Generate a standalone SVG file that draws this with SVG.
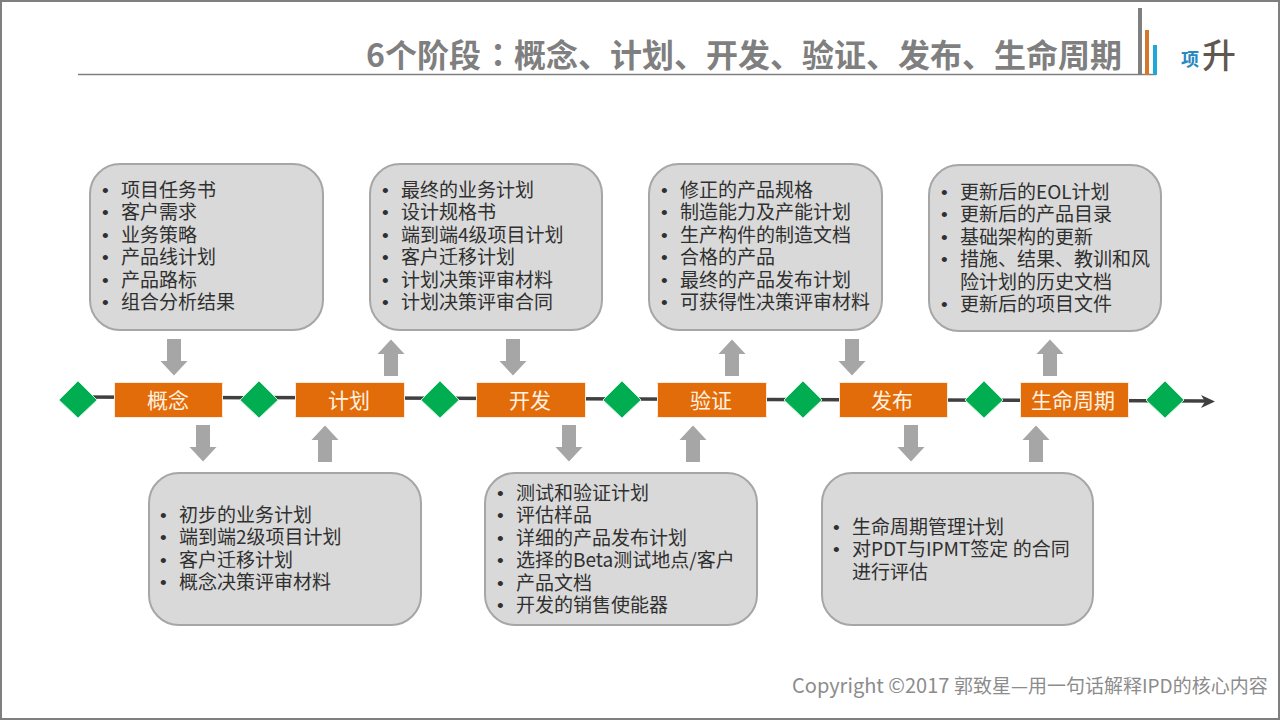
<svg xmlns="http://www.w3.org/2000/svg" width="1280" height="720" viewBox="0 0 1280 720">
<style>
text{font-family:"Noto Sans CJK SC","Liberation Sans",sans-serif}
.box{fill:#d9d9d9;stroke:#a6a6a6;stroke-width:2}
.t{font-size:19px;fill:#303030}
.b{font-family:"Liberation Sans",sans-serif}
.s{fill:#e36c0a;stroke:#fde9d9;stroke-width:1}
.st{font-size:21px;fill:#fff2e0;text-anchor:middle}
.d{fill:#00ad50;stroke:#c8f0d8;stroke-width:1}
.a{fill:#a6a6a6}
</style>
<defs>
<path id="dn" d="M-7-22H7V0H13.500L0 14.500L-13.500 0H-7Z"/>
<path id="up" d="M-7 22H7V0H13.500L0-14.500L-13.500 0H-7Z"/>
</defs>
<rect x="1" y="1" width="1278" height="718" fill="#fff" stroke="#7f7f7f" stroke-width="2"/>
<g id="title">
<text y="67" font-size="32" font-weight="700" fill="#7f7f7f"><tspan x="366">6个阶段</tspan><tspan x="482" style="font-family:'Noto Sans CJK TC',sans-serif">：</tspan><tspan x="514">概念、计划、开发、验证、发布、生命周期</tspan></text>
<path d="M78 74.500H1156" stroke="#7f7f7f" stroke-width="1.500" fill="none"/>
<rect x="1138" y="8" width="4" height="67" fill="#7f7f7f"/>
<rect x="1145" y="30" width="4" height="45" fill="#d2772c"/>
<rect x="1153" y="45" width="4" height="30" fill="#1ea7d8"/>
<text x="1181" y="66" font-size="18" font-weight="700" fill="#2a88c0">项</text>
<text x="1202" y="68" font-size="34" font-weight="500" fill="#5f5750">升</text>
</g>
<g id="connectors">
<path d="M78 397L1208 401" stroke="#404040" stroke-width="3.500" fill="none"/>
<path d="M1201 395L1215 401.500L1201 408L1205 401.500Z" fill="#404040"/>
</g>
<g id="arrows" class="a">
<use href="#dn" x="174" y="361"/><use href="#dn" x="203" y="447"/>
<use href="#up" x="391" y="354"/><use href="#up" x="325" y="440"/>
<use href="#dn" x="513" y="361"/><use href="#dn" x="569" y="447"/>
<use href="#up" x="732" y="354"/><use href="#up" x="693" y="440"/>
<use href="#dn" x="852" y="361"/><use href="#dn" x="911" y="447"/>
<use href="#up" x="1050" y="354"/><use href="#up" x="1036" y="440"/>
</g>
<g id="gates">
<path class="d" d="M78 381L97 400L78 418L59 400Z"/>
<path class="d" d="M259 381L278 400L259 418L240 400Z"/>
<path class="d" d="M440 381L459 400L440 418L421 400Z"/>
<path class="d" d="M622 381L641 400L622 418L603 400Z"/>
<path class="d" d="M803 381L822 400L803 418L784 400Z"/>
<path class="d" d="M984 381L1003 400L984 418L965 400Z"/>
<path class="d" d="M1165 381L1184 400L1165 418L1146 400Z"/>
</g>
<g id="stage-concept"><rect class="s" x="114.500" y="382.500" width="108" height="35"/><text class="st" x="168" y="408">概念</text></g>
<g id="stage-plan"><rect class="s" x="295.500" y="382.500" width="109" height="35"/><text class="st" x="349" y="408">计划</text></g>
<g id="stage-dev"><rect class="s" x="476.500" y="382.500" width="109" height="35"/><text class="st" x="530" y="408">开发</text></g>
<g id="stage-verify"><rect class="s" x="657.500" y="382.500" width="109" height="35"/><text class="st" x="711" y="408">验证</text></g>
<g id="stage-release"><rect class="s" x="839.500" y="382.500" width="108" height="35"/><text class="st" x="892" y="408">发布</text></g>
<g id="stage-life"><rect class="s" x="1020.500" y="382.500" width="108" height="35"/><text class="st" x="1073" y="408">生命周期</text></g>
<g id="box-1"><rect class="box" x="90" y="164" width="233" height="166" rx="30"/>
<text class="t" y="197"><tspan class="b" x="102">•</tspan><tspan x="121">项目任务书</tspan><tspan class="b" x="102" dy="22.400">•</tspan><tspan x="121">客户需求</tspan><tspan class="b" x="102" dy="22.400">•</tspan><tspan x="121">业务策略</tspan><tspan class="b" x="102" dy="22.400">•</tspan><tspan x="121">产品线计划</tspan><tspan class="b" x="102" dy="22.400">•</tspan><tspan x="121">产品路标</tspan><tspan class="b" x="102" dy="22.400">•</tspan><tspan x="121">组合分析结果</tspan></text></g>
<g id="box-2"><rect class="box" x="370" y="164" width="232" height="166" rx="30"/>
<text class="t" y="197"><tspan class="b" x="382">•</tspan><tspan x="401">最终的业务计划</tspan><tspan class="b" x="382" dy="22.400">•</tspan><tspan x="401">设计规格书</tspan><tspan class="b" x="382" dy="22.400">•</tspan><tspan x="401">端到端4级项目计划</tspan><tspan class="b" x="382" dy="22.400">•</tspan><tspan x="401">客户迁移计划</tspan><tspan class="b" x="382" dy="22.400">•</tspan><tspan x="401">计划决策评审材料</tspan><tspan class="b" x="382" dy="22.400">•</tspan><tspan x="401">计划决策评审合同</tspan></text></g>
<g id="box-3"><rect class="box" x="649" y="164" width="233" height="166" rx="30"/>
<text class="t" y="197"><tspan class="b" x="661">•</tspan><tspan x="680">修正的产品规格</tspan><tspan class="b" x="661" dy="22.400">•</tspan><tspan x="680">制造能力及产能计划</tspan><tspan class="b" x="661" dy="22.400">•</tspan><tspan x="680">生产构件的制造文档</tspan><tspan class="b" x="661" dy="22.400">•</tspan><tspan x="680">合格的产品</tspan><tspan class="b" x="661" dy="22.400">•</tspan><tspan x="680">最终的产品发布计划</tspan><tspan class="b" x="661" dy="22.400">•</tspan><tspan x="680">可获得性决策评审材料</tspan></text></g>
<g id="box-4"><rect class="box" x="929" y="165" width="232" height="166" rx="30"/>
<text class="t" y="199"><tspan class="b" x="941">•</tspan><tspan x="960">更新后的EOL计划</tspan><tspan class="b" x="941" dy="22.400">•</tspan><tspan x="960">更新后的产品目录</tspan><tspan class="b" x="941" dy="22.400">•</tspan><tspan x="960">基础架构的更新</tspan><tspan class="b" x="941" dy="22.400">•</tspan><tspan x="960">措施、结果、教训和风</tspan><tspan x="960" dy="22.400">险计划的历史文档</tspan><tspan class="b" x="941" dy="22.400">•</tspan><tspan x="960">更新后的项目文件</tspan></text></g>
<g id="box-5"><rect class="box" x="149" y="473" width="272" height="152" rx="30"/>
<text class="t" y="522"><tspan class="b" x="160">•</tspan><tspan x="179">初步的业务计划</tspan><tspan class="b" x="160" dy="22.400">•</tspan><tspan x="179">端到端2级项目计划</tspan><tspan class="b" x="160" dy="22.400">•</tspan><tspan x="179">客户迁移计划</tspan><tspan class="b" x="160" dy="22.400">•</tspan><tspan x="179">概念决策评审材料</tspan></text></g>
<g id="box-6"><rect class="box" x="485" y="473" width="272" height="152" rx="30"/>
<text class="t" y="500"><tspan class="b" x="497">•</tspan><tspan x="516">测试和验证计划</tspan><tspan class="b" x="497" dy="22.400">•</tspan><tspan x="516">评估样品</tspan><tspan class="b" x="497" dy="22.400">•</tspan><tspan x="516">详细的产品发布计划</tspan><tspan class="b" x="497" dy="22.400">•</tspan><tspan x="516">选择的Beta测试地点/客户</tspan><tspan class="b" x="497" dy="22.400">•</tspan><tspan x="516">产品文档</tspan><tspan class="b" x="497" dy="22.400">•</tspan><tspan x="516">开发的销售使能器</tspan></text></g>
<g id="box-7"><rect class="box" x="822" y="473" width="271" height="152" rx="30"/>
<text class="t" y="534"><tspan class="b" x="833">•</tspan><tspan x="852">生命周期管理计划</tspan><tspan class="b" x="833" dy="22.400">•</tspan><tspan x="852">对PDT与IPMT签定 的合同</tspan><tspan x="852" dy="22.400">进行评估</tspan></text></g>
<text id="copyright" y="693" font-size="19" fill="#8c8c8c"><tspan x="792" font-size="20">Copyright ©2017</tspan> <tspan x="954">郭致星—用一句话解释IPD的核心内容</tspan></text>
</svg>
